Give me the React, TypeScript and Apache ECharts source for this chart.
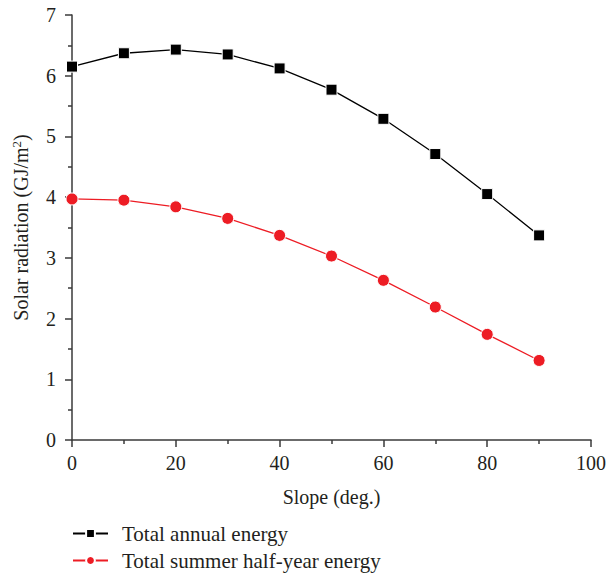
import React, { useEffect, useRef } from "react";
import * as echarts from "echarts";

const slopes = [0, 10, 20, 30, 40, 50, 60, 70, 80, 90];
const annualEnergy = [6.15, 6.37, 6.43, 6.35, 6.12, 5.77, 5.29, 4.71, 4.05, 3.37];
const summerEnergy = [3.97, 3.95, 3.84, 3.65, 3.37, 3.03, 2.63, 2.19, 1.74, 1.31];
const seriesNames = ["Total annual energy", "Total summer half-year energy"];

const FONT = "'Liberation Serif', 'Times New Roman', serif";
const TXT = "#231f20";
const AXIS = "#3a3a3a";

export default function App() {
  const ref = useRef<HTMLDivElement>(null);
  useEffect(() => {
    if (!ref.current) return;
    const chart = echarts.init(ref.current, null, { renderer: "svg" });
    const axisCommon = {
      axisLine: { show: true, lineStyle: { color: AXIS, width: 1.5 } },
      axisTick: { show: true, inside: false, length: 7, lineStyle: { color: AXIS, width: 1.5 } },
      minorTick: { show: true, splitNumber: 2, length: 4, lineStyle: { color: AXIS, width: 1.5 } },
      splitLine: { show: false },
      axisLabel: { color: TXT, fontFamily: FONT, fontSize: 20 },
      nameTextStyle: { color: TXT, fontFamily: FONT, fontSize: 20 },
    };
    chart.setOption({
      animation: false,
      backgroundColor: "#fff",
      grid: { left: 72, right: 16, top: 15, bottom: 135, containLabel: false },
      xAxis: {
        type: "value",
        min: 0,
        max: 100,
        interval: 20,
        name: "Slope (deg.)",
        nameLocation: "middle",
        nameGap: 47,
        ...axisCommon,
        axisLabel: { ...axisCommon.axisLabel, margin: 13 },
      },
      yAxis: {
        type: "value",
        min: 0,
        max: 7,
        interval: 1,
        name: "Solar radiation (GJ/m{sup|2})",
        nameLocation: "middle",
        nameGap: 40,
        ...axisCommon,
        axisLabel: { ...axisCommon.axisLabel, margin: 16 },
        nameTextStyle: {
          ...axisCommon.nameTextStyle,
          rich: {
            sup: { fontFamily: FONT, fontSize: 13, color: TXT, verticalAlign: "top", padding: [0, 0, 9, 0] },
          },
        },
      },
      legend: {
        orient: "vertical",
        left: 72,
        top: 523,
        padding: 0,
        itemWidth: 35,
        itemHeight: 11,
        itemGap: 6,
        textStyle: { color: TXT, fontFamily: FONT, fontSize: 21, padding: [0, 0, 0, 9] },
        data: seriesNames,
      },
      series: [
        {
          name: seriesNames[0],
          type: "line",
          data: slopes.map((s, i) => [s, annualEnergy[i]]),
          symbol: "rect",
          symbolSize: 11,
          itemStyle: { color: "#000", borderColor: "#fff", borderWidth: 1 },
          lineStyle: { color: "#000", width: 1.3 },
        },
        {
          name: seriesNames[1],
          type: "line",
          data: slopes.map((s, i) => [s, summerEnergy[i]]),
          symbol: "circle",
          symbolSize: 12,
          itemStyle: { color: "#ed1c24", borderColor: "#fff", borderWidth: 1 },
          lineStyle: { color: "#ed1c24", width: 1.3 },
        },
      ],
    });
    return () => chart.dispose();
  }, []);
  return <div ref={ref} style={{ position: "absolute", left: 0, top: 0, width: 609, height: 575 }} />;
}
